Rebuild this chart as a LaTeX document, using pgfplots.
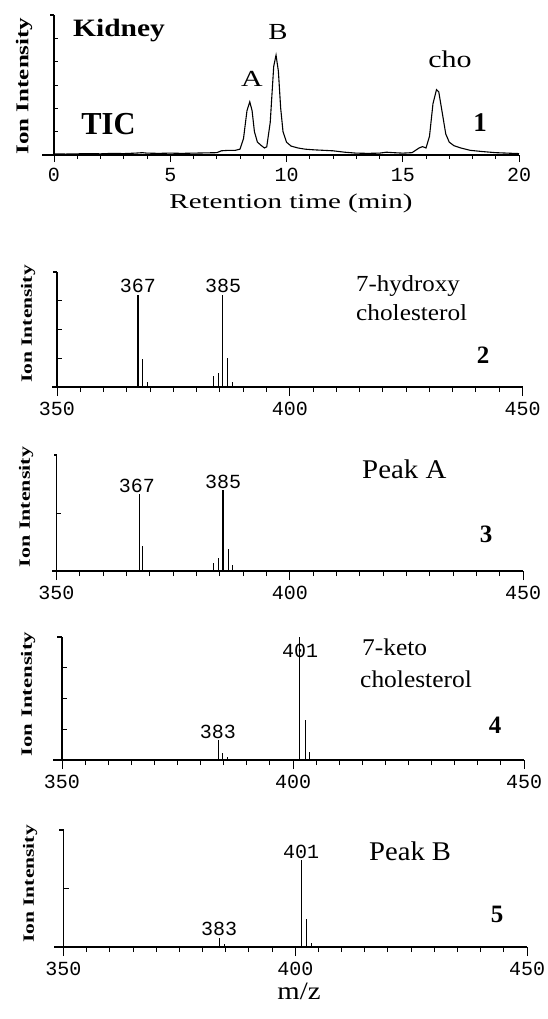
\documentclass[border=0pt]{standalone}
\usepackage{fontspec}
\setmainfont{Liberation Serif}
\setmonofont{Liberation Mono}
\usepackage{graphicx}
\usepackage{pgfplots}
\pgfplotsset{compat=1.18}

\newcommand\fs[1]{\fontsize{#1}{#1}\selectfont}
\newcommand\sx[2]{\scalebox{#1}[1]{#2}}

\tikzset{ext/.style={line width=1.1pt}}
\pgfplotsset{
  base/.style={scale only axis, axis x line=bottom, axis y line=left,
    axis line style={-, line width=1.1pt},
    every outer x axis line/.append style={-},
    every outer y axis line/.append style={-},
    every tick/.style={black, line width=1pt},
    xtick align=outside, ytick align=inside,
    major tick length=9pt, minor tick length=5pt,
    ytick={0}, yticklabels={},
    xticklabel style={font=\fs{20}\ttfamily, yshift=-3pt},
    clip=false},
  spec/.style={base, xmin=350, xmax=450, ymin=0, ymax=4,
    xtick={350,400,450}, xticklabels={350,400,450},
    minor xtick={355,360,...,445}},
  comb/.style={ycomb, black, line width=1.1pt, mark=none}
}

\begin{document}
\begin{tikzpicture}
\path[use as bounding box] (0pt,0pt) rectangle (548pt,-1019pt);

% 1 -- TIC
\begin{axis}[base, at={(54pt,-155pt)}, anchor=south west, width=465pt, height=140pt,
  xmin=0, xmax=20, ymin=0, ymax=6,
  xtick={0,5,10,15,20}, xticklabels={0,5,10,15,20}, minor xtick={1,...,19},
  minor ytick={1,2,3,4,5}, major tick length=7pt, minor tick length=4pt]
\addplot[black, line width=1.1pt] coordinates {
 (0,0.05) (0.5,0.04) (1,0.05) (1.5,0.06) (2,0.05) (2.5,0.07) (3,0.06) (3.5,0.08)
 (3.8,0.1) (4,0.08) (4.5,0.07) (5,0.08) (5.5,0.07) (6,0.08) (6.5,0.09) (7,0.1)
 (7.2,0.18) (7.5,0.2) (7.8,0.2) (8.0,0.25) (8.15,0.7) (8.3,1.9) (8.42,2.28)
 (8.52,1.9) (8.62,1.0) (8.75,0.55) (8.9,0.42) (9.05,0.3) (9.15,0.35) (9.3,1.4)
 (9.45,3.8) (9.55,4.28) (9.65,3.6) (9.75,2.0) (9.85,1.0) (10.0,0.55) (10.2,0.38)
 (10.5,0.3) (10.8,0.25) (11.2,0.22) (11.6,0.2) (12,0.18) (12.5,0.12) (13,0.08)
 (13.5,0.07) (14,0.08) (14.3,0.12) (14.6,0.1) (15,0.08) (15.4,0.1) (15.7,0.3)
 (15.85,0.36) (16.0,0.3) (16.15,0.8) (16.3,2.2) (16.45,2.8) (16.55,2.7) (16.7,1.8)
 (16.85,0.9) (17.0,0.55) (17.2,0.4) (17.5,0.3) (17.9,0.2) (18.4,0.15) (19,0.1)
 (19.5,0.08) (20,0.06)
};
\draw[ext] (rel axis cs:0,0) -- ++(-12pt,0pt);
\draw[ext] (rel axis cs:0,1) -- ++(-4pt,0pt);
\end{axis}

% 2 -- 7-hydroxycholesterol
\begin{axis}[spec, at={(57pt,-387pt)}, anchor=south west, width=465.5pt, height=115pt,
  minor ytick={1,2,3}]
\addplot[comb] coordinates {
 (367.4,3.19) (368.4,0.99) (369.5,0.17) (383.6,0.38) (384.6,0.5)
 (385.6,3.19) (386.6,1.02) (387.7,0.17)
};
\draw[ext] (rel axis cs:0,0) -- ++(-5pt,0pt);
\draw[ext] (rel axis cs:0,1) -- ++(-4pt,0pt);
\end{axis}

% 3 -- peak A
\begin{axis}[spec, at={(56.5pt,-571pt)}, anchor=south west, width=466.5pt, height=116pt,
  minor ytick={2}]
\addplot[comb] coordinates {
 (367.7,2.64) (368.5,0.86) (383.7,0.28) (384.7,0.46) (385.7,2.79)
 (386.8,0.75) (387.8,0.2)
};
\draw[ext] (rel axis cs:0,0) -- ++(-5pt,0pt);
\draw[ext] (rel axis cs:0,1) -- ++(-3pt,0pt);
\end{axis}

% 4 -- 7-ketocholesterol
\begin{axis}[spec, at={(62pt,-760pt)}, anchor=south west, width=462pt, height=123pt,
  minor ytick={1,2,3}]
\addplot[comb] coordinates {
 (383.8,0.65) (384.8,0.22) (385.9,0.11) (401.4,4.0) (402.7,1.3) (403.6,0.27)
};
\draw[ext] (rel axis cs:0,0) -- ++(-9pt,0pt);
\draw[ext] (rel axis cs:0,1) -- ++(-5pt,0pt);
\end{axis}

% 5 -- peak B
\begin{axis}[spec, at={(63.5pt,-947pt)}, anchor=south west, width=463.5pt, height=117pt,
  minor ytick={2}]
\addplot[comb] coordinates {
 (383.6,0.31) (384.7,0.11) (401.3,2.97) (402.5,0.95) (403.5,0.15)
};
\draw[ext] (rel axis cs:0,0) -- ++(-10pt,0pt);
\draw[ext] (rel axis cs:0,1) -- ++(-5pt,0pt);
\end{axis}

% texts, panel 1
\node[anchor=base, inner sep=0pt] at (119pt,-37pt) {\sx{1.18}{\fs{25}\bfseries Kidney}};
\node[anchor=base, inner sep=0pt] at (108.5pt,-135pt) {\sx{0.95}{\fs{32}\bfseries TIC}};
\node[anchor=base, inner sep=0pt] at (252pt,-87pt) {\sx{1.3}{\fs{23}A}};
\node[anchor=base, inner sep=0pt] at (278pt,-40pt) {\sx{1.25}{\fs{23}B}};
\node[anchor=base, inner sep=0pt] at (450pt,-68pt) {\sx{1.25}{\fs{24}cho}};
\node[anchor=base, inner sep=0pt] at (480pt,-132pt) {\fs{27}\bfseries 1};
\node[anchor=base, inner sep=0pt] at (291pt,-208pt) {\sx{1.38}{\fs{21}Retention time (min)}};

% panel 2
\node[anchor=base, inner sep=0pt] at (138pt,-292pt) {\fs{20}\ttfamily 367};
\node[anchor=base, inner sep=0pt] at (223pt,-292pt) {\fs{20}\ttfamily 385};
\node[anchor=base west, inner sep=0pt] at (356pt,-291pt) {\sx{1.08}{\fs{23}7-hydroxy}};
\node[anchor=base west, inner sep=0pt] at (356pt,-320pt) {\sx{1.1}{\fs{23}cholesterol}};
\node[anchor=base, inner sep=0pt] at (483pt,-363pt) {\fs{25}\bfseries 2};

% panel 3
\node[anchor=base, inner sep=0pt] at (137pt,-492pt) {\fs{20}\ttfamily 367};
\node[anchor=base, inner sep=0pt] at (223pt,-488pt) {\fs{20}\ttfamily 385};
\node[anchor=base west, inner sep=0pt] at (362pt,-478pt) {\sx{1.07}{\fs{27}Peak A}};
\node[anchor=base, inner sep=0pt] at (486pt,-542pt) {\fs{25}\bfseries 3};

% panel 4
\node[anchor=base, inner sep=0pt] at (300pt,-657pt) {\fs{20}\ttfamily 401};
\node[anchor=base, inner sep=0pt] at (218pt,-738pt) {\fs{20}\ttfamily 383};
\node[anchor=base west, inner sep=0pt] at (362pt,-655pt) {\sx{1.06}{\fs{24}7-keto}};
\node[anchor=base west, inner sep=0pt] at (360pt,-687pt) {\sx{1.06}{\fs{24}cholesterol}};
\node[anchor=base, inner sep=0pt] at (495pt,-733pt) {\fs{25}\bfseries 4};

% panel 5
\node[anchor=base, inner sep=0pt] at (301pt,-858pt) {\fs{20}\ttfamily 401};
\node[anchor=base, inner sep=0pt] at (219pt,-935pt) {\fs{20}\ttfamily 383};
\node[anchor=base west, inner sep=0pt] at (369pt,-860pt) {\sx{1.06}{\fs{27}Peak B}};
\node[anchor=base, inner sep=0pt] at (497pt,-922pt) {\fs{25}\bfseries 5};
\node[anchor=base, inner sep=0pt] at (299pt,-999pt) {\sx{1.15}{\fs{25}m/z}};

% y labels
\node[rotate=90, inner sep=0pt] at (24pt,-86pt) {\sx{1.39}{\fs{18}\bfseries Ion Intensity}};
\node[rotate=90, inner sep=0pt] at (28pt,-324pt) {\sx{1.37}{\fs{15.7}\bfseries Ion Intensity}};
\node[rotate=90, inner sep=0pt] at (26pt,-507pt) {\sx{1.4}{\fs{15.7}\bfseries Ion Intensity}};
\node[rotate=90, inner sep=0pt] at (28pt,-694pt) {\sx{1.45}{\fs{15.7}\bfseries Ion Intensity}};
\node[rotate=90, inner sep=0pt] at (30pt,-884pt) {\sx{1.37}{\fs{15.7}\bfseries Ion Intensity}};
\end{tikzpicture}
\end{document}
